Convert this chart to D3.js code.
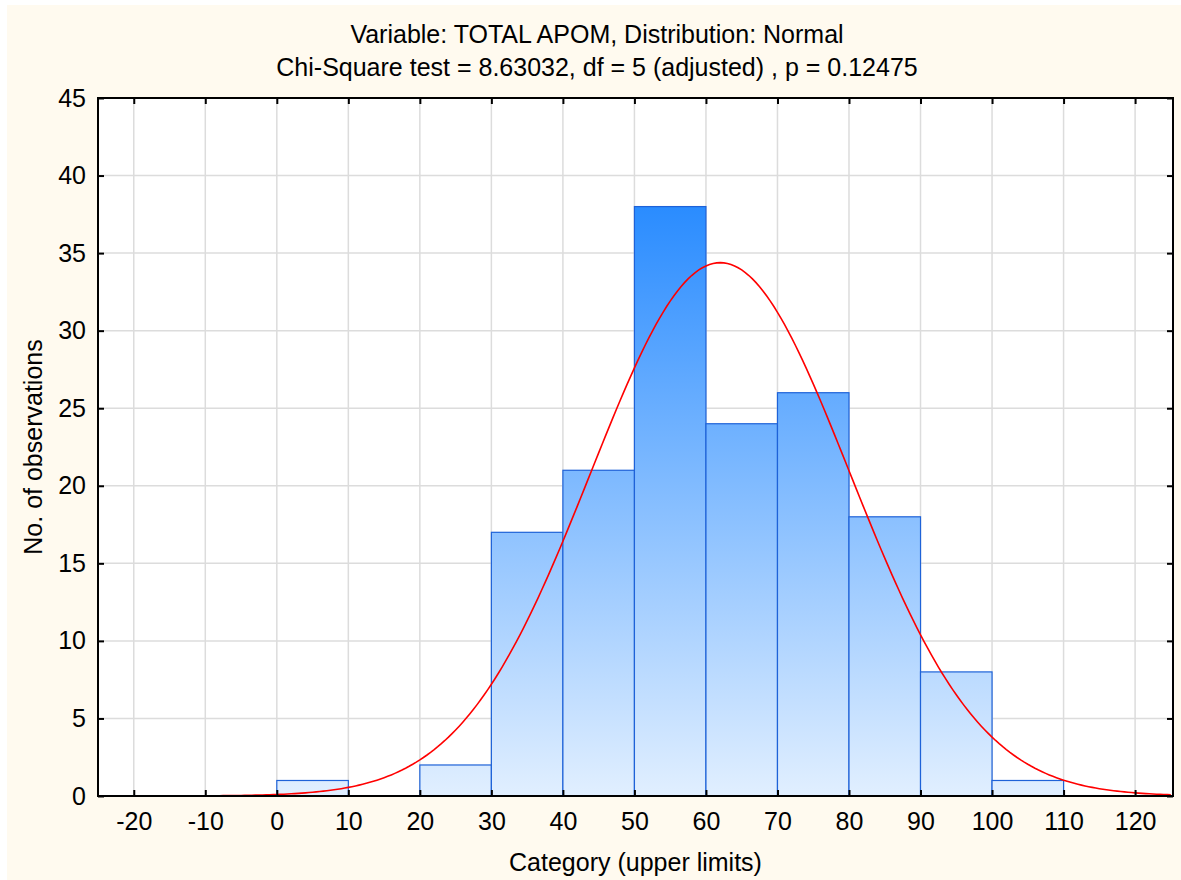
<!DOCTYPE html>
<html>
<head>
<meta charset="utf-8">
<script src="https://cdn.jsdelivr.net/npm/d3@7"></script>
<style>
  body { margin: 0; background: #fff; }
  text { font-family: "Liberation Sans", Arial, sans-serif; fill: #000; }
</style>
</head>
<body>
<div id="chart"></div>
<script>
// histogram bins (lower, upper) and counts
var binLower = [0, 10, 20, 30, 40, 50, 60, 70, 80, 90, 100];
var binUpper = [10, 20, 30, 40, 50, 60, 70, 80, 90, 100, 110];
var counts   = [1, 0, 2, 17, 21, 38, 24, 26, 18, 8, 1];

var xTicks = [-20, -10, 0, 10, 20, 30, 40, 50, 60, 70, 80, 90, 100, 110, 120];
var yTicks = [0, 5, 10, 15, 20, 25, 30, 35, 40, 45];

// fitted normal curve parameters
var fitMean = 62;
var fitSd = 18.1;

var svgWidth = 1181, svgHeight = 880;
var margin = {top: 98, right: 8, bottom: 84, left: 98};
var width = 1173 - margin.left;
var height = 796 - margin.top;
var fontSize = 25;

var svg = d3.select("#chart").append("svg")
  .attr("width", svgWidth)
  .attr("height", svgHeight);

svg.append("rect")
  .attr("x", 7).attr("y", 5)
  .attr("width", svgWidth - 7).attr("height", svgHeight - 5)
  .attr("fill", "#fffaef");

var g = svg.append("g")
  .attr("transform", `translate(${margin.left}, ${margin.top})`);

var x = d3.scaleLinear().domain([-25, 125.3]).range([0, width]);
var y = d3.scaleLinear().domain([0, 45]).range([height, 0]);

g.append("rect")
  .attr("width", width).attr("height", height)
  .attr("fill", "#fff");

// gradient for bars
var grad = svg.append("defs").append("linearGradient")
  .attr("id", "barGrad")
  .attr("gradientUnits", "userSpaceOnUse")
  .attr("x1", 0).attr("x2", 0)
  .attr("y1", y(38)).attr("y2", y(0));
grad.append("stop").attr("offset", "0%").attr("stop-color", "#2a8cff");
grad.append("stop").attr("offset", "100%").attr("stop-color", "#e1efff");

// grid
g.append("g").selectAll("line")
  .data(xTicks).enter().append("line")
  .attr("x1", d => x(d)).attr("x2", d => x(d))
  .attr("y1", 0).attr("y2", height)
  .attr("stroke", "#dcdcdc").attr("stroke-width", 1.5);
g.append("g").selectAll("line")
  .data(yTicks.slice(1, -1)).enter().append("line")
  .attr("x1", 0).attr("x2", width)
  .attr("y1", d => y(d)).attr("y2", d => y(d))
  .attr("stroke", "#dcdcdc").attr("stroke-width", 1.5);

// bars
var bars = counts.map((c, i) => ({lo: binLower[i], hi: binUpper[i], n: c})).filter(d => d.n > 0);
g.append("g").selectAll("rect")
  .data(bars).enter().append("rect")
  .attr("x", d => x(d.lo))
  .attr("y", d => y(d.n))
  .attr("width", d => x(d.hi) - x(d.lo))
  .attr("height", d => y(0) - y(d.n))
  .attr("fill", "url(#barGrad)")
  .attr("stroke", "#1e62d8")
  .attr("stroke-width", 1.2);

// normal curve, expected counts per bin width of 10
var total = d3.sum(counts);
var curveX = d3.range(-25, 125.5, 0.5);
var line = d3.line()
  .x(d => x(d))
  .y(d => y(total * 10 * Math.exp(-0.5 * Math.pow((d - fitMean) / fitSd, 2)) / (fitSd * Math.sqrt(2 * Math.PI))));
g.append("path")
  .datum(curveX)
  .attr("d", line)
  .attr("fill", "none")
  .attr("stroke", "#ff0000")
  .attr("stroke-width", 1.6);

// axes (ticks point inward)
var bottomAxis = d3.axisBottom(x).tickValues(xTicks).tickSize(-6).tickPadding(16).tickFormat(d => String(d));
var topAxis = d3.axisTop(x).tickValues(xTicks).tickSize(-6).tickFormat("");
var leftAxis = d3.axisLeft(y).tickValues(yTicks).tickSize(-6).tickPadding(12).tickFormat(d => String(d));
var rightAxis = d3.axisRight(y).tickValues(yTicks).tickSize(-6).tickFormat("");

function styleAxis(sel) {
  sel.attr("font-size", null).attr("font-family", null);
  sel.select(".domain").remove();
  sel.selectAll("line").attr("stroke", "#000").attr("stroke-width", 2);
  sel.selectAll("text").attr("font-size", fontSize);
}
g.append("g").attr("transform", `translate(0, ${height})`).call(bottomAxis).call(styleAxis);
g.append("g").call(topAxis).call(styleAxis);
g.append("g").call(leftAxis).call(styleAxis);
g.append("g").attr("transform", `translate(${width}, 0)`).call(rightAxis).call(styleAxis);

g.append("rect")
  .attr("width", width).attr("height", height)
  .attr("fill", "none").attr("stroke", "#000").attr("stroke-width", 2);

// titles
svg.append("text")
  .attr("x", 597).attr("y", 43)
  .attr("text-anchor", "middle").attr("font-size", fontSize)
  .text("Variable: TOTAL APOM, Distribution: Normal");
svg.append("text")
  .attr("x", 597).attr("y", 76)
  .attr("text-anchor", "middle").attr("font-size", fontSize)
  .text("Chi-Square test = 8.63032, df = 5 (adjusted) , p = 0.12475");

svg.append("text")
  .attr("x", margin.left + width / 2).attr("y", 871)
  .attr("text-anchor", "middle").attr("font-size", fontSize)
  .text("Category (upper limits)");

svg.append("text")
  .attr("transform", `translate(42, ${margin.top + height / 2}) rotate(-90)`)
  .attr("text-anchor", "middle").attr("font-size", fontSize)
  .text("No. of observations");
</script>
</body>
</html>
